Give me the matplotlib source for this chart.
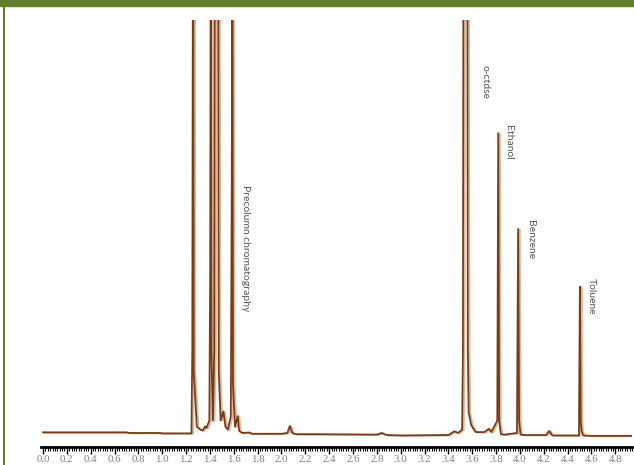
import matplotlib
matplotlib.use("Agg")
import matplotlib.pyplot as plt
import matplotlib.patheffects as pe
from matplotlib.patches import Rectangle
from matplotlib.lines import Line2D
import numpy as np

# retention time (min) and detector signal
rt = [0.00, 0.70, 0.72, 0.98, 1.00, 1.245,
      1.252, 1.258, 1.264, 1.29, 1.32, 1.34, 1.36, 1.37, 1.395,
      1.402, 1.407, 1.412, 1.425, 1.436, 1.442, 1.468, 1.474,
      1.49, 1.513, 1.53, 1.55, 1.575, 1.583, 1.588, 1.593, 1.61, 1.633, 1.645,
      1.67, 1.73, 1.75, 2.00, 2.05, 2.07, 2.09, 2.12, 2.30, 2.80, 2.84, 2.88,
      3.00, 3.40, 3.45, 3.48, 3.515, 3.522, 3.527, 3.558, 3.563, 3.57, 3.59, 3.61,
      3.63, 3.70, 3.74, 3.76, 3.81, 3.818, 3.826, 3.84, 3.87, 3.975, 3.985,
      3.993, 4.005, 4.04, 4.22, 4.245, 4.27, 4.495, 4.503, 4.51, 4.517, 4.53,
      4.60, 4.95]
signal = [0.15, 0.15, 0.0, 0.0, -0.1, -0.1,
          20, 140, 15, 1.5, 0.8, 0.6, 1.6, 1.2, 3,
          40, 140, 20, 3, 20, 140, 140, 15,
          3, 5.2, 1.5, 0.8, 4, 60, 140, 12, 1.5, 4.1, 0.5,
          0.0, 0.1, -0.2, -0.2, 0.0, 1.7, 0.0, -0.3, -0.3, -0.4, 0.0, -0.5,
          -0.6, -0.5, 0.4, 0.0, 0.8, 20, 140, 140, 20, 5, 2, 1.0,
          0.2, 0.2, 1.0, 0.2, 3, 72.6, 3, -0.3, -0.4, 0.0, 49.4,
          3, -0.4, -0.5, -0.5, 0.5, -0.6, -0.6, 35.4, 3, 0.5, -0.6,
          -0.7, -0.7]

peak_names = ["Precolumn chromatography", "o-ctdse", "Ethanol", "Benzene", "Toluene"]
label_x = [1.70, 3.71, 3.90, 4.085, 4.60]
label_y = [60, 89, 74.6, 51.6, 37.5]

fig = plt.figure(figsize=(6.34, 4.65), dpi=100)
fig.patch.set_facecolor("white")

# green header strip and left border
fig.add_artist(Rectangle((0, 1 - 6 / 465), 1, 6 / 465, transform=fig.transFigure,
                         color="#62802a", zorder=5))
fig.add_artist(Line2D([3.5 / 634, 3.5 / 634], [0, 1], transform=fig.transFigure,
                      color="#62802a", lw=1.5))

ax = fig.add_axes([41 / 634, 18 / 465, 591 / 634, 427 / 465])
ax.plot(rt, signal, color="#7a3c18", lw=1.3, solid_joinstyle="round",
        path_effects=[pe.SimpleLineShadow(offset=(1.2, -0.4), shadow_color="#c9a07a",
                                          alpha=0.7),
                      pe.Normal()])

ax.set_xlim(-0.017, 4.94)
ax.set_ylim(-3.4, 100)

for s in ["left", "right", "top"]:
    ax.spines[s].set_visible(False)
ax.spines["bottom"].set_linewidth(2)
ax.set_yticks([])

ax.set_xticks(np.arange(0, 4.81, 0.2))
ax.set_xticklabels([f"{v:.1f}" for v in np.arange(0, 4.81, 0.2)])
ax.set_xticks(np.arange(0, 4.94, 0.02), minor=True)
ax.tick_params(axis="x", which="major", length=5, width=1, pad=1,
               labelsize=7.8, labelcolor="#808080", labelfontfamily="Liberation Serif")
ax.tick_params(axis="x", which="minor", length=3, width=0.8)

for name, x, y in zip(peak_names, label_x, label_y):
    ax.text(x, y, name, rotation=-90, ha="center", va="top", fontsize=7.5,
            color="#555555", family=["Lato", "DejaVu Sans"])

fig.savefig("out.png", dpi=100)
